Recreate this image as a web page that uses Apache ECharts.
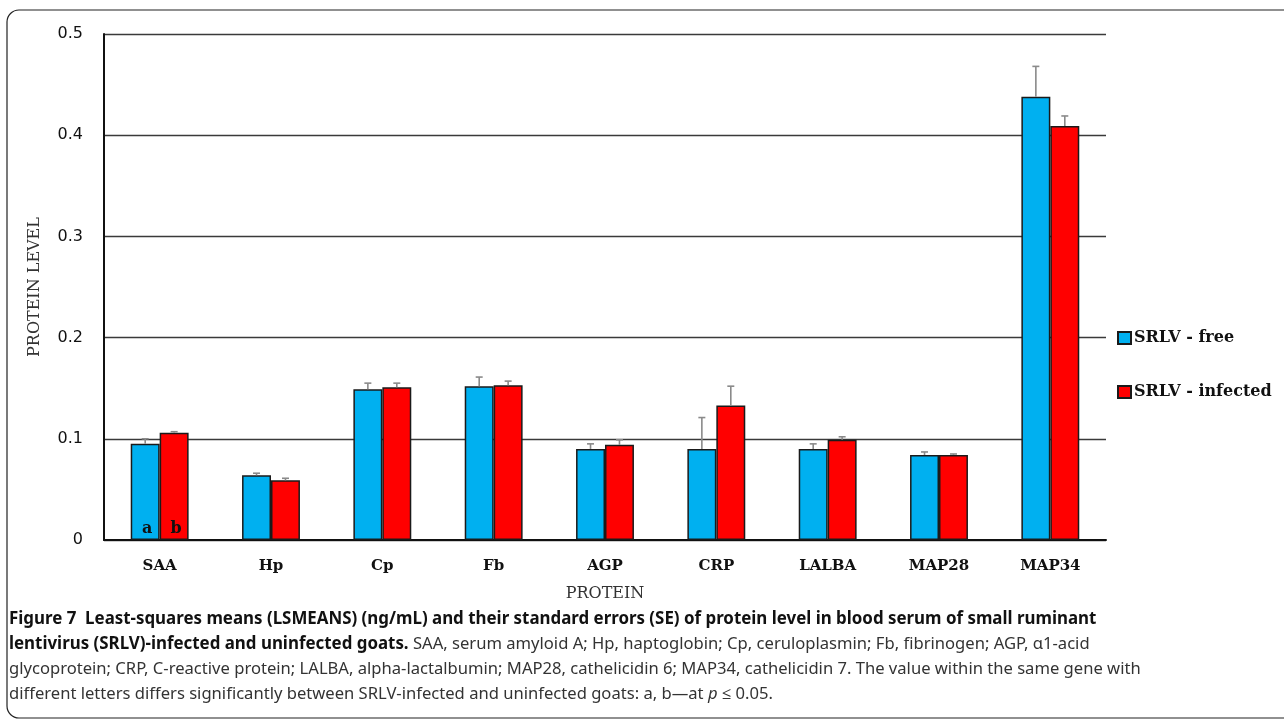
<!DOCTYPE html>
<html>
<head>
<meta charset="utf-8">
<script src="https://cdn.jsdelivr.net/npm/echarts@6/dist/echarts.min.js"></script>
<style>
  html, body { margin: 0; padding: 0; background: #fff; }
  #chart { width: 1284px; height: 720px; }
</style>
</head>
<body>
<div id="chart"></div>
<script>
// Protein panel (x-axis categories)
const proteins = ['SAA', 'Hp', 'Cp', 'Fb', 'AGP', 'CRP', 'LALBA', 'MAP28', 'MAP34'];

// LSMEANS per group
const freeMeans     = [0.095, 0.064, 0.149, 0.152, 0.090, 0.090, 0.090, 0.084, 0.438];
const infectedMeans = [0.106, 0.059, 0.151, 0.153, 0.094, 0.133, 0.099, 0.084, 0.409];

// Standard errors per group
const freeSE     = [0.005, 0.002, 0.006, 0.009, 0.005, 0.031, 0.005, 0.003, 0.030];
const infectedSE = [0.001, 0.002, 0.004, 0.004, 0.005, 0.019, 0.003, 0.001, 0.010];

// Significance letters (SAA only)
const freeLetters     = ['a', '', '', '', '', '', '', '', ''];
const infectedLetters = ['b', '', '', '', '', '', '', '', ''];

const yTicks = [0, 0.1, 0.2, 0.3, 0.4, 0.5];

const seriesNames = ['SRLV - free', 'SRLV - infected'];
const captionLines = [
  [['b', 'Figure 7  Least-squares means (LSMEANS) (ng/mL) and their standard errors (SE) of protein level in blood serum of small ruminant']],
  [['b', 'lentivirus (SRLV)-infected and uninfected goats.'], ['r', ' SAA, serum amyloid A; Hp, haptoglobin; Cp, ceruloplasmin; Fb, fibrinogen; AGP, \u03b11-acid']],
  [['r', 'glycoprotein; CRP, C-reactive protein; LALBA, alpha-lactalbumin; MAP28, cathelicidin 6; MAP34, cathelicidin 7. The value within the same gene with']],
  [['r', 'different letters differs significantly between SRLV-infected and uninfected goats: a, b\u2014at '], ['i', 'p'], ['r', ' \u2264 0.05.']]
];

const BLUE = '#00b0f0';
const RED = '#ff0000';
const CAT_GAP = 0.48;              // fraction of category left empty
const SERIF = '"DejaVu Serif", "Liberation Serif", serif';
const CAPTION_FONT = '"Noto Sans", "Open Sans", sans-serif';

const chart = echarts.init(document.getElementById('chart'), null, { renderer: 'canvas' });

// Error whiskers drawn above each bar; groupIndex 0 = left bar, 1 = right bar
function errorSeries(means, ses, groupIndex) {
  return {
    type: 'custom',
    silent: true,
    z: 5,
    data: means.map((m, i) => [i, m, m + ses[i]]),
    renderItem: function (params, api) {
      const catW = api.size([1, 0])[0];
      const barW = catW * (1 - CAT_GAP) / 2;
      const base = api.coord([api.value(0), api.value(1)]);
      const top = api.coord([api.value(0), api.value(2)]);
      const x = base[0] + (groupIndex === 0 ? -barW / 2 : barW / 2);
      const cap = 3.5;
      const st = { stroke: '#8a8a8a', lineWidth: 1.6 };
      return {
        type: 'group',
        children: [
          { type: 'line', shape: { x1: x, y1: base[1], x2: x, y2: top[1] }, style: st },
          { type: 'line', shape: { x1: x - cap, y1: top[1], x2: x + cap, y2: top[1] }, style: st }
        ]
      };
    }
  };
}

function barSeries(name, means, letters, color) {
  return {
    name: name,
    type: 'bar',
    barGap: '0%',
    barCategoryGap: (CAT_GAP * 100) + '%',
    itemStyle: { color: color, borderColor: '#1a1a1a', borderWidth: 1.5 },
    data: means.map((v, i) => ({
      value: v,
      label: {
        show: letters[i] !== '',
        position: 'insideBottom',
        distance: 3,
        offset: [2, 0],
        formatter: letters[i],
        color: '#111',
        fontFamily: SERIF,
        fontWeight: 'bold',
        fontSize: 16
      }
    }))
  };
}

// Caption built as rich text lines
const rich = {
  b: { fontFamily: CAPTION_FONT, fontWeight: 'bold', fontSize: 16.9, fill: '#111' },
  r: { fontFamily: CAPTION_FONT, fontWeight: 'normal', fontSize: 16.6, fill: '#333' },
  i: { fontFamily: CAPTION_FONT, fontStyle: 'italic', fontSize: 16.6, fill: '#333' }
};
const captionGraphics = captionLines.map((line, k) => ({
  type: 'text',
  left: 9,
  top: 611 + k * 25,
  style: {
    text: line.map(([s, t]) => '{' + s + '|' + t + '}').join(''),
    rich: rich
  }
}));

const option = {
  backgroundColor: '#ffffff',
  animation: false,
  grid: { left: 104, right: 178, top: 34, bottom: 180 },
  legend: {
    data: seriesNames,
    orient: 'vertical',
    left: 1112,
    top: 325,
    itemWidth: 13,
    itemHeight: 12,
    itemGap: 38,
    icon: 'rect',
    textStyle: { fontFamily: SERIF, fontWeight: 'bold', fontSize: 16, color: '#111', padding: [0, 0, 0, -2] }
  },
  xAxis: {
    type: 'category',
    data: proteins,
    name: 'PROTEIN',
    nameLocation: 'middle',
    nameGap: 46,
    nameTextStyle: { fontFamily: SERIF, fontSize: 16, color: '#333' },
    axisLine: { lineStyle: { color: '#111', width: 2 } },
    axisTick: { show: false },
    axisLabel: { margin: 19, fontFamily: SERIF, fontWeight: 'bold', fontSize: 15, color: '#111' }
  },
  yAxis: {
    type: 'value',
    min: yTicks[0],
    max: yTicks[yTicks.length - 1],
    interval: 0.1,
    name: 'PROTEIN LEVEL',
    nameLocation: 'middle',
    nameRotate: 90,
    nameGap: 61,
    nameTextStyle: { fontFamily: SERIF, fontSize: 16, color: '#333' },
    axisLine: { show: true, lineStyle: { color: '#111', width: 2 } },
    axisTick: { show: false },
    splitLine: { lineStyle: { color: '#3a3a3a', width: 1.4 } },
    axisLabel: {
      margin: 21,
      fontFamily: '"DejaVu Sans", Verdana, sans-serif',
      fontSize: 16,
      color: '#111',
      formatter: v => (v === 0 ? '0' : String(Math.round(v * 10) / 10))
    }
  },
  series: [
    barSeries(seriesNames[0], freeMeans, freeLetters, BLUE),
    barSeries(seriesNames[1], infectedMeans, infectedLetters, RED),
    errorSeries(freeMeans, freeSE, 0),
    errorSeries(infectedMeans, infectedSE, 1)
  ],
  graphic: [
    {
      type: 'rect',
      silent: true,
      shape: { x: 7, y: 10, width: 1320, height: 708, r: 12 },
      style: { fill: 'none', stroke: '#222', lineWidth: 1.2 }
    }
  ].concat(captionGraphics)
};

chart.setOption(option);
</script>
</body>
</html>
